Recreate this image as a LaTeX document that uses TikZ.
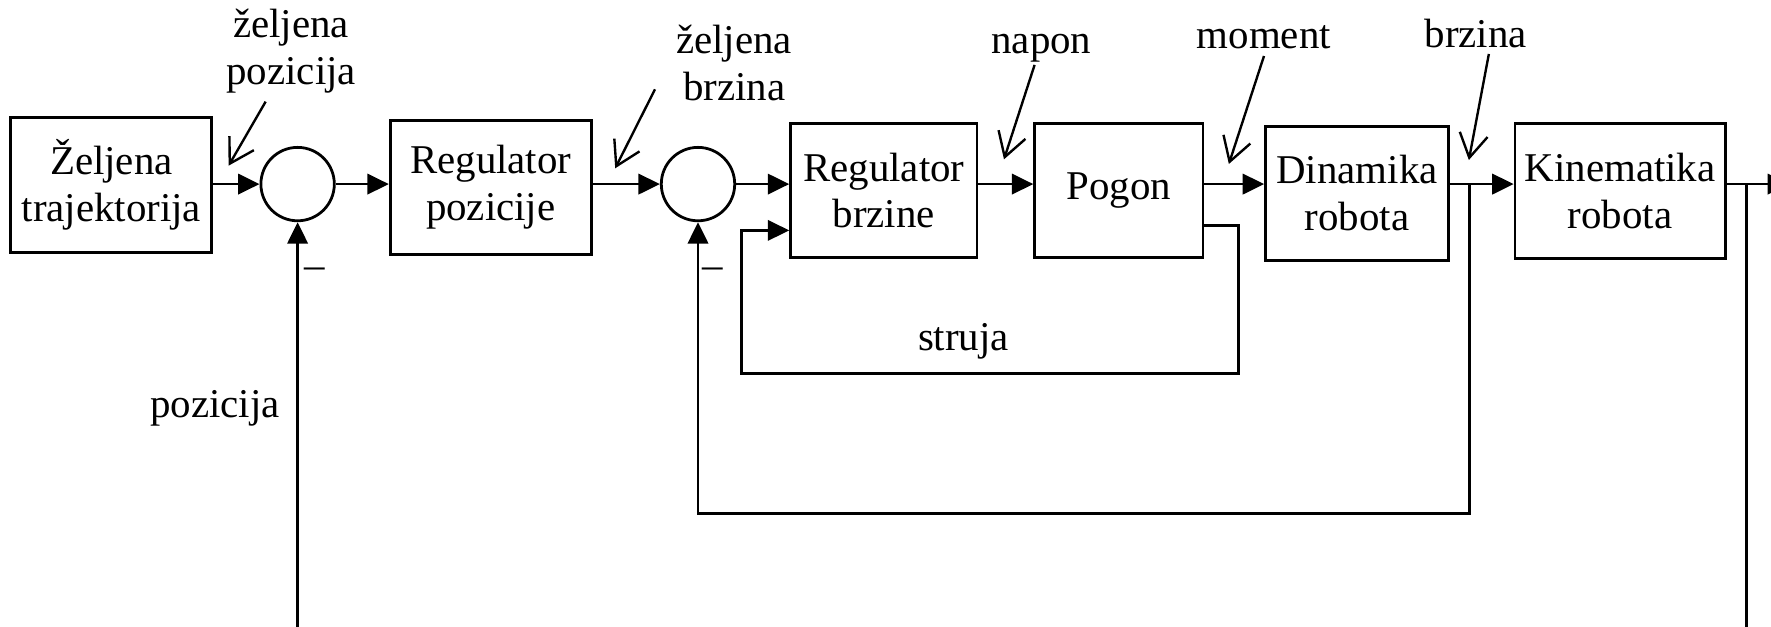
\documentclass[tikz,border=0pt]{standalone}
\usepackage{fontspec}
\setmainfont{Liberation Serif}
\usetikzlibrary{arrows.meta, positioning}
\tikzset{
  blknode/.style={draw,line width=0.7pt,minimum height=11.9mm,align=center,inner sep=0pt,font=\fontsize{10.3}{11.8}\selectfont},
  sumnode/.style={circle,draw,line width=0.7pt,minimum size=6.5mm,inner sep=0pt},
  sigedge/.style={-{Triangle[length=1.9mm,width=1.8mm]},line width=0.7pt},
  ptredge/.style={-{Straight Barb[length=2.1mm,width=2.5mm]},line width=0.6pt},
  lbl/.style={align=center,inner sep=0pt,font=\fontsize{10.3}{11.8}\selectfont},
}

\begin{document}
\begin{tikzpicture}[x=0.1mm,y=-0.1mm]
  \useasboundingbox (0,0) rectangle (1568,555);
  \clip (0,0) rectangle (1568,555);
  % blocks
  \node[blknode,minimum width=17.8mm] (nTraj) at (98.6,163.8) {Željena\\trajektorija};
  \node[sumnode] (nS1) at (263.5,163) {};
  \node[blknode,minimum width=17.8mm] (nRegPoz) at (434.5,166) {Regulator\\pozicije};
  \node[sumnode] (nS2) at (618,163) {};
  \node[blknode,minimum width=16.5mm] (nRegBrz) at (782.5,168.7) {Regulator\\brzine};
  \node[blknode,minimum width=14.9mm] (nPogon) at (990.6,168.7) {Pogon};
  \node[blknode,minimum width=16.2mm] (nDin) at (1201.5,171.2) {Dinamika\\robota};
  \node[blknode,minimum width=18.6mm] (nKin) at (1434.4,169.1) {Kinematika\\robota};
  % forward path
  \coordinate (cOut) at (1584,163);
  \coordinate (cTapPoz) at (1546,163);
  \coordinate (cTapBrz) at (1301,163);
  \draw[sigedge] (nTraj.east |- nS1) -- (nS1);
  \draw[sigedge] (nS1) -- (nRegPoz.west |- nS1);
  \draw[sigedge] (nRegPoz.east |- nS2) -- (nS2);
  \draw[sigedge] (nS2) -- (nRegBrz.west |- nS2);
  \draw[sigedge] (nRegBrz.east |- nS2) -- (nPogon.west |- nS2);
  \draw[sigedge] (nPogon.east |- nS2) -- (nDin.west |- nS2);
  \draw[sigedge] (nDin.east |- nS2) -- (nKin.west |- nS2);
  \draw[sigedge] (nKin.east |- nS2) -- (cOut);
  % feedback loops
  \coordinate (cPozLow) at (1546,600);
  \coordinate (cBrzLow) at (1301,454.5);
  \coordinate (cStrR) at (1096.5,331);
  \coordinate (cStrL) at (656.5,204);
  \draw[sigedge] (cTapPoz) -- (cPozLow) -| (nS1.south);
  \draw[sigedge] (cTapBrz) -- (cBrzLow) -| (nS2.south);
  \draw[sigedge] (nPogon.east |- 0,200) -| (cStrR) -| (cStrL) -- (nRegBrz.west |- cStrL);
  % labels
  \node[lbl] (nM1) at (279,242) {–};
  \node[lbl] (nM2) at (631,242) {–};
  \node[lbl] (lPozicija) at (190.3,370) [anchor=base] {pozicija};
  \node[lbl] (lStruja) at (853,310) [anchor=base] {struja};
  \node[lbl] (lZelPoz) at (257.8,45.6) {željena\\pozicija};
  \node[lbl] (lZelBrz) at (650,55.9) {željena\\brzina};
  \node[lbl,anchor=base] (lNapon) at (922,47) {napon};
  \node[lbl,anchor=base] (lMoment) at (1119,43) {moment};
  \node[lbl,anchor=base] (lBrzina) at (1306.5,42) {brzina};
  % pointers
  \coordinate (pZelPozA) at (235.2,90);   \coordinate (pZelPozB) at (202.4,146.7);
  \coordinate (pZelBrzA) at (579.9,79.1); \coordinate (pZelBrzB) at (544.7,149);
  \coordinate (pNaponA) at (916,57.5);    \coordinate (pNaponB) at (888.9,141.1);
  \coordinate (pMomentA) at (1119.1,49.6);\coordinate (pMomentB) at (1088,145.2);
  \coordinate (pBrzinaA) at (1318.2,47.8);\coordinate (pBrzinaB) at (1300.5,141.7);
  \draw[ptredge] (pZelPozA) -- (pZelPozB);
  \draw[ptredge] (pZelBrzA) -- (pZelBrzB);
  \draw[ptredge] (pNaponA) -- (pNaponB);
  \draw[ptredge] (pMomentA) -- (pMomentB);
  \draw[ptredge] (pBrzinaA) -- (pBrzinaB);
\end{tikzpicture}
\end{document}
